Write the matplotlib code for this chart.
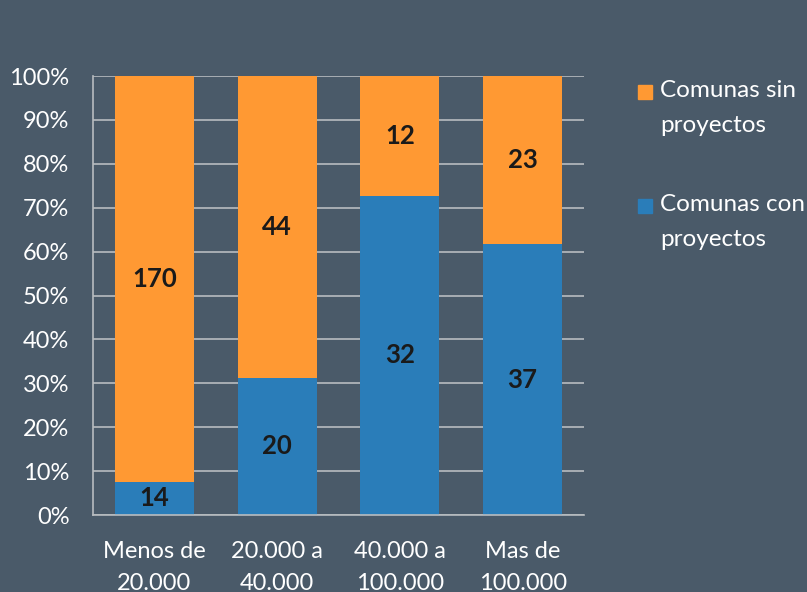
import numpy as np
import matplotlib.pyplot as plt
from matplotlib.patches import Rectangle

categorias = ["Menos de\n20.000", "20.000 a\n40.000", "40.000 a\n100.000", "Mas de\n100.000"]
con_proyectos = [14, 20, 32, 37]
sin_proyectos = [170, 44, 12, 23]
series = ["Comunas sin\nproyectos", "Comunas con\nproyectos"]

bg = "#4a5a69"
naranja = "#ff9933"
azul = "#2a7db9"
plt.rcParams['font.family'] = ['Lato', 'DejaVu Sans']

con = np.array(con_proyectos, dtype=float)
sin = np.array(sin_proyectos, dtype=float)
total = con + sin
p_con = con / total * 100
p_sin = sin / total * 100

W, H = 807, 592
fig = plt.figure(figsize=(W / 100, H / 100), dpi=100, facecolor=bg)
ax = fig.add_axes([93 / W, 1 - 515 / H, (584 - 93) / W, (515 - 76) / H])
ax.set_facecolor(bg)

x = np.arange(len(categorias))
ax.set_axisbelow(True)
ax.yaxis.grid(True, color="#b8bcc0", linewidth=1.2)
ax.bar(x, p_con, width=0.645, color=azul, zorder=2)
ax.bar(x, p_sin, width=0.645, bottom=p_con, color=naranja, zorder=2)

for i in range(len(x)):
    ax.text(x[i], p_con[i] / 2, str(con_proyectos[i]), ha="center", va="center",
            fontsize=18.5, fontweight="bold", color="#1a1a1a", zorder=3)
    ax.text(x[i], p_con[i] + p_sin[i] / 2, str(sin_proyectos[i]), ha="center", va="center",
            fontsize=18.5, fontweight="bold", color="#1a1a1a", zorder=3)

ax.set_xlim(-0.5, 3.5)
ax.set_ylim(0, 100)
ax.set_yticks(np.arange(0, 101, 10))
ax.set_yticklabels([f"{v}%" for v in range(0, 101, 10)])
ax.set_xticks(x)
ax.set_xticklabels(categorias, linespacing=1.6)
ax.tick_params(axis="both", colors="white", labelsize=17, length=0)
ax.tick_params(axis="x", pad=19)
ax.tick_params(axis="y", pad=17)
for s in ["top", "right"]:
    ax.spines[s].set_visible(False)
for s in ["left", "bottom"]:
    ax.spines[s].set_color("#b8bcc0")
    ax.spines[s].set_linewidth(1.2)

# leyenda manual (cuadro alineado con la primera linea)
for k, (nombre, col) in enumerate(zip(series, [naranja, azul])):
    y0 = 92 + 114 * k
    fig.patches.append(Rectangle((638 / W, 1 - (y0 + 7) / H), 14 / W, 14 / H,
                                 transform=fig.transFigure, color=col))
    fig.text(660 / W, 1 - (y0 - 12) / H, nombre, ha="left", va="top",
             fontsize=17.5, color="white", linespacing=1.85)

fig.savefig("out.png", dpi=100, facecolor=bg)
